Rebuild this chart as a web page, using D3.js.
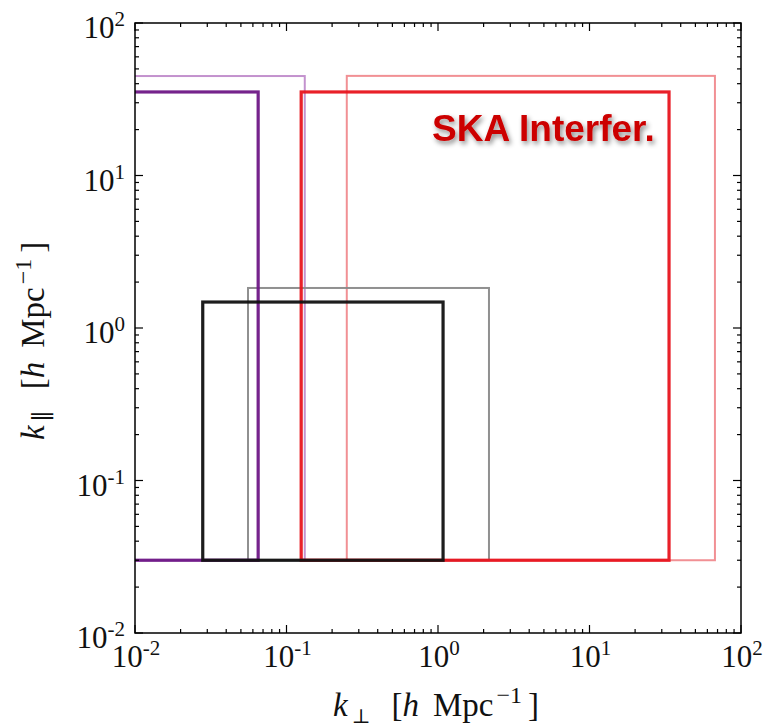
<!DOCTYPE html>
<html>
<head>
<meta charset="utf-8">
<script src="https://cdn.jsdelivr.net/npm/d3@7"></script>
<style>
  html, body { margin: 0; padding: 0; background: #fff; }
  svg { display: block; }
</style>
</head>
<body>
<svg id="chart" width="769" height="727"></svg>
<script>
// k-space coverage boxes: each box spans [kPerpMin, kPerpMax] x [kParMin, kParMax]
const boxIds    = ["purpleOuter", "redOuter", "grayOuter", "purpleInner", "redInner", "blackInner"];
const kPerpMin  = [0.003, 0.25, 0.0557, 0.003, 0.125, 0.028];
const kPerpMax  = [0.132, 67.3, 2.17, 0.065, 33.5, 1.08];
const kParMin   = [0.03, 0.03, 0.03, 0.03, 0.03, 0.03];
const kParMax   = [44.9, 45.0, 1.83, 35.3, 35.3, 1.48];
const boxColor  = ["#c08ccb", "#f08a8e", "#8a8a8a", "#6e1786", "#e8141e", "#111111"];
const boxWidth  = [2, 2, 2, 3.2, 3.2, 3.2];

const xTickExp = [-2, -1, 0, 1, 2];
const yTickExp = [-2, -1, 0, 1, 2];
const annotation = "SKA Interfer.";

const svg = d3.select("#chart");
const pL = 135, pR = 741, pT = 23, pB = 633;

const x = d3.scaleLog().domain([1e-2, 1e2]).range([pL, pR]);
const y = d3.scaleLog().domain([1e-2, 1e2]).range([pB, pT]);

const defs = svg.append("defs");
defs.append("clipPath").attr("id", "plotClip")
  .append("rect").attr("x", pL).attr("y", pT)
  .attr("width", pR - pL).attr("height", pB - pT);

const shadow = defs.append("filter").attr("id", "txtShadow")
  .attr("x", "-20%").attr("y", "-40%").attr("width", "140%").attr("height", "180%");
shadow.append("feDropShadow").attr("dx", 2).attr("dy", 3).attr("stdDeviation", 2.5)
  .attr("flood-color", "#000").attr("flood-opacity", 0.45);

// boxes
const plot = svg.append("g").attr("clip-path", "url(#plotClip)");
plot.selectAll("rect.box").data(boxIds).join("rect")
  .attr("class", "box")
  .attr("x", (d, i) => x(kPerpMin[i]))
  .attr("y", (d, i) => y(kParMax[i]))
  .attr("width", (d, i) => x(kPerpMax[i]) - x(kPerpMin[i]))
  .attr("height", (d, i) => y(kParMin[i]) - y(kParMax[i]))
  .attr("fill", "none")
  .attr("stroke", (d, i) => boxColor[i])
  .attr("stroke-width", (d, i) => boxWidth[i])
  .attr("stroke-opacity", 0.95);

// frame
svg.append("rect").attr("x", pL).attr("y", pT)
  .attr("width", pR - pL).attr("height", pB - pT)
  .attr("fill", "none").attr("stroke", "#000").attr("stroke-width", 1.5);

// ticks on all four sides, pointing inward
const minor = [];
for (let e = -2; e < 2; e++) for (let m = 2; m <= 9; m++) minor.push(m * Math.pow(10, e));
const major = xTickExp.map(e => Math.pow(10, e));
const ticks = svg.append("g").attr("stroke", "#000").attr("stroke-width", 1.2);
function drawTicks(vals, len) {
  vals.forEach(v => {
    const px = x(v), py = y(v);
    ticks.append("line").attr("x1", px).attr("x2", px).attr("y1", pB).attr("y2", pB - len);
    ticks.append("line").attr("x1", px).attr("x2", px).attr("y1", pT).attr("y2", pT + len);
    ticks.append("line").attr("y1", py).attr("y2", py).attr("x1", pL).attr("x2", pL + len);
    ticks.append("line").attr("y1", py).attr("y2", py).attr("x1", pR).attr("x2", pR - len);
  });
}
drawTicks(minor, 4);
drawTicks(major, 8);

// tick labels as 10^n
const serif = "'Liberation Serif', 'DejaVu Serif', serif";
function powLabel(sel, e) {
  sel.append("tspan").text("10");
  sel.append("tspan").attr("dy", -12).attr("font-size", 21).text(e < 0 ? "-" + (-e) : String(e));
}
xTickExp.forEach(e => {
  const t = svg.append("text").attr("x", x(Math.pow(10, e)) + 1).attr("y", 667)
    .attr("text-anchor", "middle").attr("font-family", serif).attr("font-size", 31).attr("fill", "#111");
  powLabel(t, e);
});
yTickExp.forEach(e => {
  const t = svg.append("text").attr("x", 125).attr("y", y(Math.pow(10, e)) + 15)
    .attr("text-anchor", "end").attr("font-family", serif).attr("font-size", 31).attr("fill", "#111");
  powLabel(t, e);
});

// axis titles, with LaTeX-like spacing
function axisTitle(t, subSym, subSize) {
  t.append("tspan").attr("font-style", "italic").text("k");
  t.append("tspan").attr("dx", 4).attr("dy", 7).attr("font-size", subSize).text(subSym);
  t.append("tspan").attr("dx", 21).attr("dy", -7).text("[");
  t.append("tspan").attr("font-style", "italic").text("h");
  t.append("tspan").attr("dx", 14).text("Mpc");
  t.append("tspan").attr("dx", 3).attr("dy", -13).attr("font-size", 24).text("−1");
  t.append("tspan").attr("dx", 6).attr("dy", 13).text("]");
}
const xl = svg.append("text").attr("x", 333).attr("y", 716)
  .attr("font-family", serif).attr("font-size", 33).attr("fill", "#111");
axisTitle(xl, "⊥", 20);

const yl = svg.append("text").attr("transform", "translate(44,440) rotate(-90)")
  .attr("font-family", serif).attr("font-size", 33).attr("fill", "#111");
axisTitle(yl, "∥", 24);

// annotation
svg.append("text").attr("x", 432).attr("y", 141)
  .attr("font-family", "'Liberation Sans', Arial, sans-serif").attr("font-weight", "bold")
  .attr("font-size", 37).attr("fill", "#cc0000").attr("filter", "url(#txtShadow)")
  .text(annotation);
</script>
</body>
</html>
